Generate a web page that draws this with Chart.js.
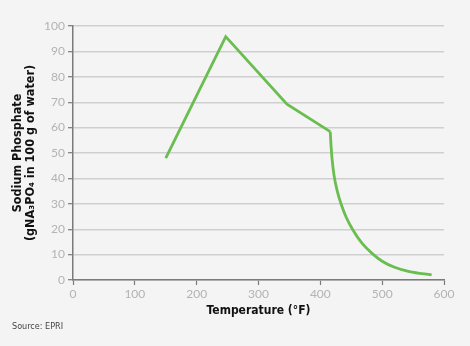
<!DOCTYPE html>
<html>
<head>
<meta charset="utf-8">
<script src="https://cdn.jsdelivr.net/npm/chart.js@4/dist/chart.umd.min.js"></script>
<style>
  html, body { margin: 0; padding: 0; background: #f4f4f4; }
  #wrap { width: 470px; height: 346px; position: relative; }
</style>
</head>
<body>
<div id="wrap"><canvas id="c" width="470" height="346"></canvas></div>
<script>
// Straight part of the solubility curve
const lineTempF = [150, 247, 346, 416];
const lineSolubility = [48, 95.8, 69.2, 58.4];
// Falling curved part
const curveTempF = [416, 417.3, 418.9, 422.1, 427.6, 434, 442, 452, 467, 485, 500, 520, 544, 580];
const curveSolubility = [58.4, 53, 47.9, 41.3, 34.8, 29.6, 24.6, 20, 14.6, 10.2, 7.4, 5.0, 3.3, 2.0];
const xTicks = [0, 100, 200, 300, 400, 500, 600];
const yTicks = [0, 10, 20, 30, 40, 50, 60, 70, 80, 90, 100];

const toPts = (xs, ys) => xs.map((x, i) => ({ x: x, y: ys[i] }));
const green = '#6abd4f';

const bgPlugin = {
  id: 'bg',
  beforeDraw(chart) {
    const ctx = chart.ctx;
    ctx.save();
    ctx.fillStyle = '#f4f4f4';
    ctx.fillRect(0, 0, chart.width, chart.height);
    ctx.restore();
  },
  afterDraw(chart) {
    const ctx = chart.ctx;
    ctx.save();
    ctx.fillStyle = '#444';
    ctx.font = '9px "Liberation Sans Narrow", "DejaVu Sans Condensed", sans-serif';
    ctx.textBaseline = 'middle';
    ctx.fillText('Source: EPRI', 12, 327);
    ctx.restore();
  }
};

new Chart(document.getElementById('c'), {
  type: 'scatter',
  data: {
    datasets: [
      { data: toPts(lineTempF, lineSolubility), showLine: true, borderColor: green, borderWidth: 2.8, pointRadius: 0, tension: 0, fill: false },
      { data: toPts(curveTempF, curveSolubility), showLine: true, borderColor: green, borderWidth: 2.8, pointRadius: 0, cubicInterpolationMode: 'monotone', fill: false }
    ]
  },
  plugins: [bgPlugin],
  options: {
    responsive: false,
    animation: false,
    layout: { padding: { top: 26, right: 26, left: 0, bottom: 24 } },
    plugins: { legend: { display: false }, tooltip: { enabled: false } },
    scales: {
      x: {
        type: 'linear', min: 0, max: 600,
        afterBuildTicks(s) { s.ticks = xTicks.map(v => ({ value: v })); },
        afterFit(s) { s.height = 42; },
        grid: { drawOnChartArea: false, drawTicks: true, tickLength: 5, tickColor: '#7a7a7a', tickWidth: 1.2 },
        border: { color: '#7a7a7a', width: 1.5 },
        ticks: { color: '#b3b3b3', font: { family: 'Lato, sans-serif', size: 12 }, padding: 2, maxRotation: 0 },
        title: { display: true, text: 'Temperature (°F)', color: '#111', font: { family: '"DejaVu Sans Condensed", "Liberation Sans Narrow", sans-serif', size: 12, weight: 'bold' }, padding: { top: 2, bottom: 4 } }
      },
      y: {
        type: 'linear', min: 0, max: 100,
        afterBuildTicks(s) { s.ticks = yTicks.map(v => ({ value: v })); },
        afterFit(s) { s.width = 73; },
        grid: { color: '#cfcfcf', lineWidth: 1.4, drawTicks: true, tickLength: 5, tickColor: '#7a7a7a', tickWidth: 1.2 },
        border: { color: '#7a7a7a', width: 1.5 },
        ticks: { color: '#b3b3b3', font: { family: 'Lato, sans-serif', size: 12 }, padding: 3 },
        title: { display: true, text: ['Sodium Phosphate', '(gNA₃PO₄ in 100 g of water)'], color: '#111', font: { family: '"DejaVu Sans Condensed", "Liberation Sans Narrow", sans-serif', size: 12.5, weight: 'bold', lineHeight: 1.05 }, padding: { top: 11, bottom: 0 } }
      }
    }
  }
});
</script>
</body>
</html>
